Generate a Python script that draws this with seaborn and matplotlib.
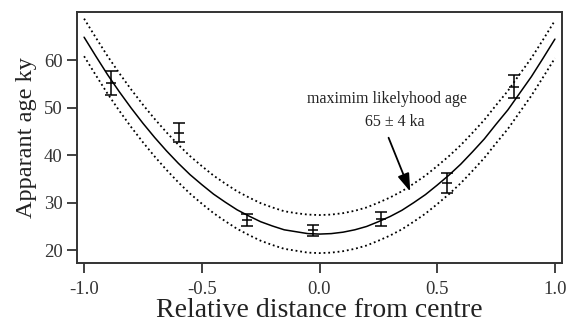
import numpy as np
import pandas as pd
import matplotlib
matplotlib.use("Agg")
import matplotlib.pyplot as plt
import seaborn as sns

# ---- data ----
curve_x = [-1.0, -0.95, -0.9, -0.85, -0.8, -0.75, -0.7, -0.65, -0.6, -0.55, -0.5,
           -0.45, -0.4, -0.35, -0.3, -0.25, -0.2, -0.15, -0.1, -0.05, 0.0,
           0.05, 0.1, 0.15, 0.2, 0.25, 0.3, 0.35, 0.4, 0.45, 0.5,
           0.55, 0.6, 0.65, 0.7, 0.75, 0.8, 0.85, 0.9, 0.95, 1.0]
fit_age = [64.8, 60.8, 56.9, 53.3, 49.9, 46.7, 43.7, 40.9, 38.3, 35.9, 33.8,
           31.8, 30.1, 28.5, 27.2, 26.0, 25.1, 24.3, 23.9, 23.5, 23.4,
           23.5, 23.8, 24.3, 25.0, 26.0, 27.1, 28.4, 30.0, 31.7, 33.7,
           35.8, 38.1, 40.7, 43.4, 46.5, 49.5, 53.0, 56.5, 60.4, 64.4]
upper_age = [68.7, 64.7, 60.8, 57.2, 53.8, 50.6, 47.6, 44.8, 42.2, 39.8, 37.7,
             35.7, 34.0, 32.4, 31.1, 29.9, 29.0, 28.2, 27.8, 27.5, 27.4,
             27.5, 27.8, 28.3, 29.0, 30.0, 31.1, 32.4, 34.0, 35.7, 37.7,
             39.8, 42.1, 44.7, 47.4, 50.5, 53.5, 57.0, 60.4, 64.3, 68.3]
lower_age = [60.8, 56.8, 52.9, 49.3, 45.9, 42.7, 39.7, 36.9, 34.3, 31.9, 29.8,
             27.8, 26.1, 24.5, 23.2, 22.0, 21.1, 20.3, 19.9, 19.5, 19.4,
             19.5, 19.8, 20.3, 21.0, 22.0, 23.1, 24.4, 26.0, 27.7, 29.7,
             31.8, 34.1, 36.7, 39.4, 42.5, 45.5, 49.0, 52.5, 56.4, 60.4]

point_x = [-0.885, -0.597, -0.307, -0.028, 0.262, 0.542, 0.825]
point_age = [55.2, 44.7, 26.3, 24.2, 26.6, 34.2, 54.4]
point_err = [2.5, 2.0, 1.3, 1.2, 1.4, 2.1, 2.4]

x_ticks = [-1.0, -0.5, 0.0, 0.5, 1.0]
x_ticklabels = ["-1.0", "-0.5", "0.0", "0.5", "1.0"]
y_ticks = [20, 30, 40, 50, 60]

sns.set_theme(style="ticks")
plt.rcParams["font.family"] = ["Liberation Serif", "DejaVu Serif"]
plt.rcParams["axes.unicode_minus"] = False

fig = plt.figure(figsize=(5.68, 3.24), dpi=100)
ax = fig.add_axes([0.1356, 0.188, 0.8538, 0.775])

curves = pd.DataFrame({"x": curve_x, "fit": fit_age, "upper": upper_age, "lower": lower_age})
sns.lineplot(data=curves, x="x", y="fit", ax=ax, color="black", lw=1.1)
sns.lineplot(data=curves, x="x", y="upper", ax=ax, color="black", lw=1.3,
             linestyle=(0, (1, 1.6)))
sns.lineplot(data=curves, x="x", y="lower", ax=ax, color="black", lw=1.3,
             linestyle=(0, (1, 1.6)))

ax.errorbar(point_x, point_age, yerr=point_err, fmt="none", ecolor="black",
            elinewidth=1.1, capsize=4, capthick=1.1)
sns.scatterplot(x=point_x, y=point_age, ax=ax, marker="_", s=60, color="black",
                linewidth=1.1)

ax.annotate("maximim likelyhood age", xy=(0.285, 51.8), ha="center", va="center",
            fontsize=11.5, color="#222222")
ax.annotate("65 \u00b1 4 ka", xy=(0.32, 46.9), ha="center", va="center",
            fontsize=11.5, color="#222222")
ax.annotate("", xy=(0.39, 31.8), xytext=(0.289, 44.2),
            arrowprops=dict(arrowstyle="-|>,head_length=0.9,head_width=0.3",
                            color="black", lw=1.3))

ax.set_xlim(-1.03, 1.03)
ax.set_ylim(17.3, 70.1)
ax.set_xticks(x_ticks)
ax.set_xticklabels(x_ticklabels)
ax.set_yticks(y_ticks)
ax.set_xlabel("Relative distance from centre", fontsize=20, color="#222222", labelpad=0)
ax.set_ylabel("Apparant age ky", fontsize=17.5, color="#222222", labelpad=5)
ax.tick_params(axis="both", direction="out", length=7, width=1.3, colors="#333333",
               labelsize=13.5, labelcolor="#333333")
ax.tick_params(axis="x", pad=6)
ax.tick_params(axis="y", pad=3.5)
for s in ax.spines.values():
    s.set_visible(True)
    s.set_linewidth(1.4)
    s.set_color("#333333")
ax.set_facecolor("white")
fig.patch.set_facecolor("white")

fig.savefig("out.png", dpi=100)
